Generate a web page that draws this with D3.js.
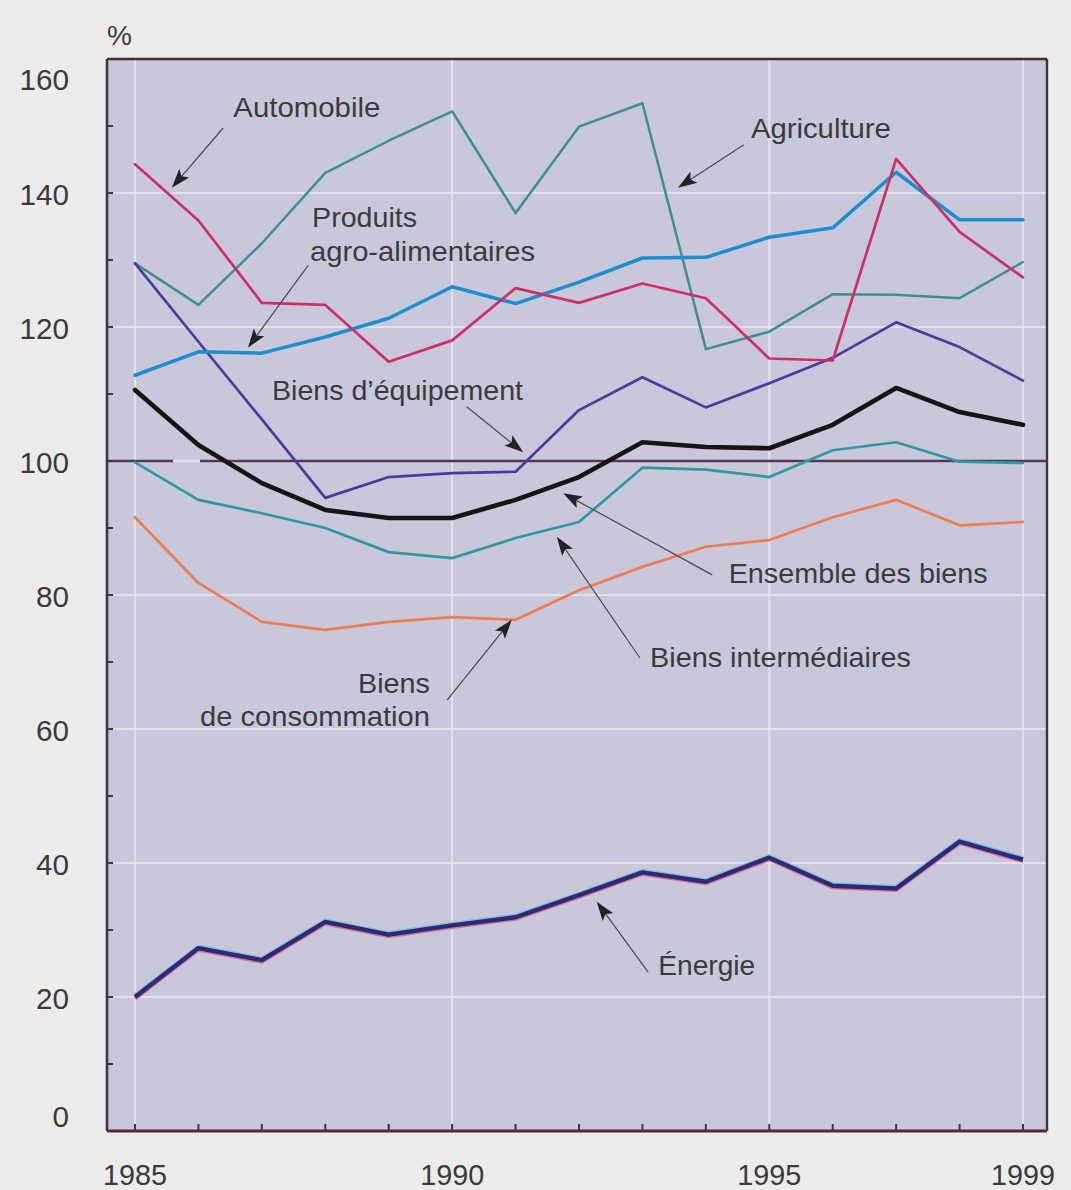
<!DOCTYPE html>
<html lang="fr">
<head>
<meta charset="utf-8">
<script src="https://cdn.jsdelivr.net/npm/d3@7"></script>
<style>
  html, body { margin: 0; padding: 0; background: #edecea; }
  svg { display: block; }
  text { font-family: "Liberation Sans", Arial, Helvetica, sans-serif; fill: #3b3a3e; }
</style>
</head>
<body>
<svg id="chart" width="1071" height="1190"></svg>
<script>
// Années
const years = [1985, 1986, 1987, 1988, 1989, 1990, 1991, 1992, 1993, 1994, 1995, 1996, 1997, 1998, 1999];

// Séries (en %)
const automobile     = [144.3, 135.9, 123.6, 123.3, 114.8, 118.0, 125.8, 123.6, 126.5, 124.3, 115.3, 115.0, 145.1, 134.2, 127.4];
const agriculture    = [129.5, 123.3, 132.5, 143.0, 147.8, 152.2, 137.0, 149.9, 153.4, 116.7, 119.3, 124.9, 124.8, 124.3, 129.7];
const agroAlim       = [112.8, 116.3, 116.1, 118.5, 121.3, 126.0, 123.5, 126.7, 130.3, 130.4, 133.4, 134.8, 143.1, 136.0, 136.0];
const equipement     = [129.5, 117.8, 106.2, 94.5, 97.6, 98.2, 98.4, 107.6, 112.5, 108.0, 111.6, 115.4, 120.7, 117.0, 112.0];
const ensemble       = [110.6, 102.4, 96.7, 92.7, 91.5, 91.5, 94.2, 97.6, 102.8, 102.1, 101.9, 105.4, 110.9, 107.3, 105.4];
const intermediaires = [99.8, 94.2, 92.2, 90.0, 86.4, 85.5, 88.5, 90.9, 99.0, 98.7, 97.6, 101.6, 102.8, 99.9, 99.7];
const consommation   = [91.6, 81.8, 76.0, 74.8, 76.0, 76.7, 76.3, 80.7, 84.2, 87.2, 88.2, 91.6, 94.2, 90.4, 90.9];
const energie        = [20.0, 27.3, 25.5, 31.2, 29.3, 30.7, 31.9, 35.2, 38.6, 37.2, 40.8, 36.6, 36.2, 43.2, 40.5];

// Axes
const yTicks = [0, 20, 40, 60, 80, 100, 120, 140, 160];
const yMinorTicks = [10, 30, 50, 70, 90, 110, 130, 150];
const xLabels = [1985, 1990, 1995, 1999];
const reference = 100;

const svg = d3.select("#chart");

// Cadre du graphique
const frame = { left: 107, right: 1047, top: 59, bottom: 1131 };
const x = d3.scaleLinear().domain([1985, 1999]).range([135, 1023]);
const y = d3.scaleLinear().domain([0, 160]).range([1131, 59]);

svg.append("rect")
  .attr("x", frame.left).attr("y", frame.top)
  .attr("width", frame.right - frame.left).attr("height", frame.bottom - frame.top)
  .attr("fill", "#c8c8da");

// Quadrillage blanc
const grid = svg.append("g").attr("stroke", "#ececf3").attr("stroke-opacity", 0.7).attr("stroke-width", 2);
grid.selectAll("line.h").data(yTicks.filter(d => d > 0 && d < 160)).join("line")
  .attr("x1", frame.left).attr("x2", frame.right)
  .attr("y1", d => y(d)).attr("y2", d => y(d));
grid.selectAll("line.v").data(xLabels).join("line")
  .attr("x1", d => x(d)).attr("x2", d => x(d))
  .attr("y1", frame.top).attr("y2", frame.bottom);

// Ligne de référence à 100
svg.append("line")
  .attr("x1", frame.left).attr("x2", frame.right)
  .attr("y1", y(reference)).attr("y2", y(reference))
  .attr("stroke", "#553a55").attr("stroke-width", 2.6)
  .attr("stroke-dasharray", "66,27,2000");

const line = d3.line().x((d, i) => x(years[i])).y(d => y(d));

const series = [
  { values: agriculture,    color: "#3e8e92", width: 2.5 },
  { values: consommation,   color: "#f07c52", width: 2.7 },
  { values: intermediaires, color: "#2f98a2", width: 2.7 },
  { values: equipement,     color: "#4b3b9e", width: 2.7 },
  { values: agroAlim,       color: "#1b8fd0", width: 3.5 },
  { values: automobile,     color: "#cf2f68", width: 2.7 },
  { values: ensemble,       color: "#151417", width: 4.6 }
];

const lines = svg.append("g").attr("fill", "none").attr("stroke-linejoin", "round").attr("stroke-linecap", "round");
lines.selectAll("path").data(series).join("path")
  .attr("d", d => line(d.values))
  .attr("stroke", d => d.color)
  .attr("stroke-width", d => d.width);

// Énergie : trait épais avec léger repérage des couleurs d'impression
const eg = svg.append("g").attr("fill", "none").attr("stroke-linejoin", "round");
eg.append("path").attr("d", line(energie)).attr("stroke", "#7fc0e6").attr("stroke-width", 4)
  .attr("transform", "translate(0,-1.6)");
eg.append("path").attr("d", line(energie)).attr("stroke", "#d86fa0").attr("stroke-width", 4)
  .attr("transform", "translate(0,1.6)");
eg.append("path").attr("d", line(energie)).attr("stroke", "#2d2a72").attr("stroke-width", 4.4);

// Bordure du cadre
svg.append("line").attr("x1", frame.left).attr("x2", frame.right).attr("y1", frame.top).attr("y2", frame.top)
  .attr("stroke", "#4a2a34").attr("stroke-width", 2.6);
svg.append("line").attr("x1", frame.left).attr("x2", frame.right).attr("y1", frame.bottom).attr("y2", frame.bottom)
  .attr("stroke", "#5a2a30").attr("stroke-width", 2.8);
svg.append("line").attr("x1", frame.left).attr("x2", frame.left).attr("y1", frame.top).attr("y2", frame.bottom)
  .attr("stroke", "#3a3a3e").attr("stroke-width", 2.6);
svg.append("line").attr("x1", frame.right).attr("x2", frame.right).attr("y1", frame.top).attr("y2", frame.bottom)
  .attr("stroke", "#3a3a3e").attr("stroke-width", 2.4);

// Graduations
const ticks = svg.append("g").attr("stroke", "#3a3a3e").attr("stroke-width", 2);
ticks.selectAll("line.y").data(yTicks.concat(yMinorTicks).filter(d => d > 0 && d < 160)).join("line")
  .attr("x1", frame.left).attr("x2", frame.left + 6)
  .attr("y1", d => y(d)).attr("y2", d => y(d));
ticks.selectAll("line.x").data(years).join("line")
  .attr("x1", d => x(d)).attr("x2", d => x(d))
  .attr("y1", frame.bottom).attr("y2", frame.bottom - 7);

// Libellés des axes
svg.append("g").selectAll("text").data(yTicks).join("text")
  .attr("x", 69)
  .attr("y", d => y(d) + (d === 160 ? 21 : d === 0 ? -14 : 2))
  .attr("dy", "0.35em")
  .attr("text-anchor", "end")
  .attr("font-size", 29)
  .attr("textLength", d => String(d).length * 16.5)
  .attr("lengthAdjust", "spacingAndGlyphs")
  .text(d => d);

svg.append("g").selectAll("text").data(xLabels).join("text")
  .attr("x", d => x(d))
  .attr("y", 1185)
  .attr("text-anchor", "middle")
  .attr("font-size", 30)
  .attr("textLength", 64)
  .attr("lengthAdjust", "spacingAndGlyphs")
  .text(d => d);

svg.append("text").attr("x", 107).attr("y", 45).attr("font-size", 28).text("%");

// Annotations (positions en unités des données)
const annotations = [
  { lines: ["Automobile"], at: [1986.55, 151.3], anchor: "start", widths: [147],
    arrow: [[1986.39, 149.7], [1985.58, 140.8]] },
  { lines: ["Produits", "agro-alimentaires"], at: [1987.76, 134.9], anchor: "start", widths: [105, 225], indents: [2, 0],
    arrow: [[1987.73, 129.2], [1986.78, 116.9]] },
  { lines: ["Agriculture"], at: [1994.71, 148.2], anchor: "start", widths: [140],
    arrow: [[1994.60, 147.2], [1993.56, 140.8]] },
  { lines: ["Biens d\u2019équipement"], at: [1987.16, 109.1], anchor: "start", widths: [251],
    arrow: [[1990.23, 108.1], [1991.12, 101.3]] },
  { lines: ["Ensemble des biens"], at: [1994.36, 81.8], anchor: "start", widths: [259],
    arrow: [[1994.10, 83.0], [1991.75, 95.2]] },
  { lines: ["Biens intermédiaires"], at: [1993.12, 69.25], anchor: "start", widths: [261],
    arrow: [[1992.96, 70.6], [1991.65, 88.7]] },
  { lines: ["Biens", "de consommation"], at: [1989.65, 65.4], anchor: "end", widths: [72, 230],
    arrow: [[1989.92, 64.3], [1990.94, 76.3]] },
  { lines: ["Énergie"], at: [1993.25, 23.3], anchor: "start", widths: [97],
    arrow: [[1993.09, 23.7], [1992.28, 34.2]] }
];

const headLen = 19, headHalf = 6.5;
const ann = svg.append("g");
annotations.forEach(a => {
  a.lines.forEach((t, i) => {
    ann.append("text")
      .attr("x", x(a.at[0]) + (a.indents ? a.indents[i] : 0))
      .attr("y", y(a.at[1]) + i * 33.5)
      .attr("text-anchor", a.anchor)
      .attr("font-size", 28)
      .attr("textLength", a.widths[i])
      .attr("lengthAdjust", "spacingAndGlyphs")
      .text(t);
  });
  const x0 = x(a.arrow[0][0]), y0 = y(a.arrow[0][1]);
  const x1 = x(a.arrow[1][0]), y1 = y(a.arrow[1][1]);
  const len = Math.hypot(x1 - x0, y1 - y0);
  const ux = (x1 - x0) / len, uy = (y1 - y0) / len;
  const bx = x1 - ux * headLen, by = y1 - uy * headLen;
  const nx = -uy, ny = ux;
  ann.append("line")
    .attr("x1", x0).attr("y1", y0)
    .attr("x2", bx + ux * 4).attr("y2", by + uy * 4)
    .attr("stroke", "#4a4a4e").attr("stroke-width", 1.2);
  ann.append("path")
    .attr("d", `M${x1},${y1} L${bx + nx * headHalf},${by + ny * headHalf} L${bx + ux * 4},${by + uy * 4} L${bx - nx * headHalf},${by - ny * headHalf} Z`)
    .attr("fill", "#222226");
});
</script>
</body>
</html>
